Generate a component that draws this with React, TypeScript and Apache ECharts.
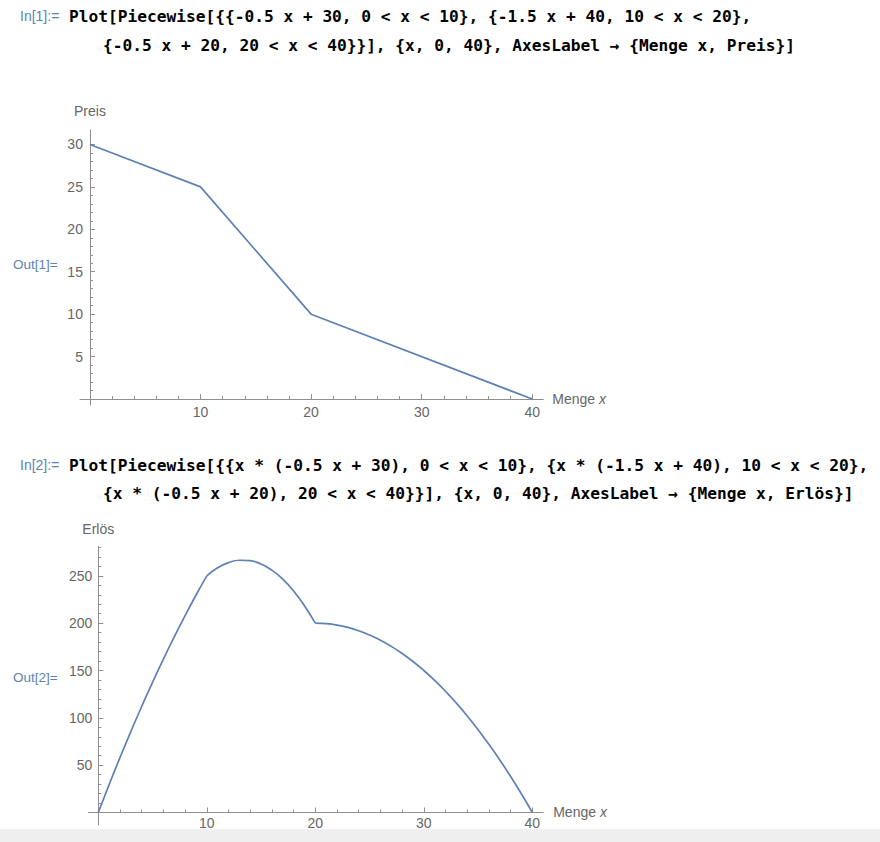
import React, { useEffect, useRef } from "react";
import * as echarts from "echarts";

// ---- data ----
const PRICE_X = [0, 10, 20, 40];
const PRICE_Y = [30, 25, 10, 0];

const REV_X = [0, 1, 2, 3, 4, 5, 6, 7, 8, 9, 10, 11, 12, 13, 14, 15, 16, 17, 18, 19, 20,
  21, 22, 23, 24, 25, 26, 27, 28, 29, 30, 31, 32, 33, 34, 35, 36, 37, 38, 39, 40];
const REV_Y = [0, 29.5, 58, 85.5, 112, 137.5, 162, 185.5, 208, 229.5, 250, 258.5, 264, 266.5, 266, 262.5, 256, 246.5, 234, 218.5, 200,
  199.5, 198, 195.5, 192, 187.5, 182, 175.5, 168, 159.5, 150, 139.5, 128, 115.5, 102, 87.5, 72, 55.5, 38, 19.5, 0];
// pieces of the piecewise function (index ranges into REV_X / REV_Y)
const REV_PIECES = [[0, 10], [10, 20], [20, 40]];

// ---- ticks ----
const X_LABELS = [10, 20, 30, 40];
const X_MINOR = [2, 4, 6, 8, 12, 14, 16, 18, 22, 24, 26, 28, 32, 34, 36, 38];
const PRICE_Y_LABELS = [5, 10, 15, 20, 25, 30];
const PRICE_Y_MINOR = [1, 2, 3, 4, 6, 7, 8, 9, 11, 12, 13, 14, 16, 17, 18, 19, 21, 22, 23, 24, 26, 27, 28, 29];
const REV_Y_LABELS = [50, 100, 150, 200, 250];
const REV_Y_MINOR = [10, 20, 30, 40, 60, 70, 80, 90, 110, 120, 130, 140, 160, 170, 180, 190, 210, 220, 230, 240, 260, 270, 280];

// ---- texts ----
const IN1 = "In[1]:=";
const IN2 = "In[2]:=";
const OUT1 = "Out[1]=";
const OUT2 = "Out[2]=";
const CODE1_L1 = "Plot[Piecewise[{{-0.5 {x|x} + 30, 0 < {x|x} < 10}, {-1.5 {x|x} + 40, 10 < {x|x} < 20},";
const CODE1_L2 = "{-0.5 {x|x} + 20, 20 < {x|x} < 40}}], {{x|x}, 0, 40}, AxesLabel → {{b|Menge x}, {b|Preis}}]";
const CODE2_L1 = "Plot[Piecewise[{{{x|x} * (-0.5 {x|x} + 30), 0 < {x|x} < 10}, {{x|x} * (-1.5 {x|x} + 40), 10 < {x|x} < 20},";
const CODE2_L2 = "{{x|x} * (-0.5 {x|x} + 20), 20 < {x|x} < 40}}], {{x|x}, 0, 40}, AxesLabel → {{b|Menge x}, {b|Erlös}}]";
const X_NAME = "{n|Menge }{i|x}";
const PRICE_NAME = "Preis";
const REV_NAME = "Erlös";

const LINE_COLOR = "#5e81b5";
const AXIS_COLOR = "#8f8f8f";
const LABEL_COLOR = "#666666";
const SANS = "Liberation Sans, Arial, sans-serif";
const MONO = "DejaVu Sans Mono, monospace";

// plot frames (layout)
const G1 = { left: 80, top: 130, width: 463.3, height: 275, xMin: -0.9, xMax: 41, yMin: -0.7, yMax: 31.7 };
const G2 = { left: 88.5, top: 546.5, width: 454.7, height: 278.3, xMin: -0.9, xMax: 41, yMin: -13, yMax: 281 };

// offsets so that the axes cross at the origin (axis lines, ticks and labels together)
const yOffset = (g: typeof G1) => -((0 - g.xMin) / (g.xMax - g.xMin)) * g.width;
const xOffset = (g: typeof G1) => -((0 - g.yMin) / (g.yMax - g.yMin)) * g.height;

export default function App() {
  const ref = useRef<HTMLDivElement>(null);
  useEffect(() => {
    if (!ref.current) return;
    const chart = echarts.init(ref.current, undefined, { renderer: "svg" });

    const codeStyle = (text: string) => ({
      text,
      fontFamily: MONO,
      fontSize: 16.2,
      fontWeight: "bold",
      fill: "#000000",
      verticalAlign: "middle",
      rich: {
        x: { fontFamily: MONO, fontSize: 16.2, fontWeight: "bold", color: "#3d8a98" },
        b: { fontFamily: MONO, fontSize: 16.2, fontWeight: "bold", color: "#2b3fc2" },
      },
    });
    const promptStyle = (text: string, size: number) => ({
      text,
      fontFamily: SANS,
      fontSize: size,
      fill: "#5a84b3",
      verticalAlign: "middle",
    });

    const xMajor = (grid: number, g: typeof G1, margin: number, gap: number) => ({
      type: "value",
      gridIndex: grid,
      min: g.xMin,
      max: g.xMax,
      position: "bottom",
      offset: xOffset(g),
      name: X_NAME,
      nameLocation: "end",
      nameGap: gap,
      nameTextStyle: {
        rich: {
          n: { fontFamily: SANS, fontSize: 14, color: LABEL_COLOR },
          i: { fontFamily: SANS, fontSize: 14, color: LABEL_COLOR, fontStyle: "italic" },
        },
      },
      splitLine: { show: false },
      axisLine: { show: true, onZero: false, lineStyle: { color: AXIS_COLOR, width: 1 } },
      axisTick: { show: true, inside: true, length: 5, customValues: X_LABELS, lineStyle: { color: AXIS_COLOR } },
      axisLabel: { customValues: X_LABELS, margin, color: LABEL_COLOR, fontFamily: SANS, fontSize: 14 },
    });
    const xMinor = (grid: number, g: typeof G1) => ({
      type: "value",
      gridIndex: grid,
      min: g.xMin,
      max: g.xMax,
      position: "bottom",
      offset: xOffset(g),
      splitLine: { show: false },
      axisLine: { show: false, onZero: false },
      axisTick: { show: true, inside: true, length: 3, customValues: X_MINOR, lineStyle: { color: AXIS_COLOR } },
      axisLabel: { show: false, customValues: X_MINOR },
    });
    const yMajor = (grid: number, g: typeof G1, labels: number[], name: string, gap: number, margin: number) => ({
      type: "value",
      gridIndex: grid,
      min: g.yMin,
      max: g.yMax,
      position: "left",
      offset: yOffset(g),
      name,
      nameLocation: "end",
      nameGap: gap,
      nameTextStyle: { fontFamily: SANS, fontSize: 14, color: LABEL_COLOR, align: "center" },
      splitLine: { show: false },
      axisLine: { show: true, onZero: false, lineStyle: { color: AXIS_COLOR, width: 1 } },
      axisTick: { show: true, inside: true, length: 5, customValues: labels, lineStyle: { color: AXIS_COLOR } },
      axisLabel: { customValues: labels, margin, color: LABEL_COLOR, fontFamily: SANS, fontSize: 14 },
    });
    const yMinor = (grid: number, g: typeof G1, minor: number[]) => ({
      type: "value",
      gridIndex: grid,
      min: g.yMin,
      max: g.yMax,
      position: "left",
      offset: yOffset(g),
      splitLine: { show: false },
      axisLine: { show: false, onZero: false },
      axisTick: { show: true, inside: true, length: 3, customValues: minor, lineStyle: { color: AXIS_COLOR } },
      axisLabel: { show: false, customValues: minor },
    });

    const lineSeries = (xi: number, data: number[][], smooth: boolean) => ({
      type: "line",
      xAxisIndex: xi,
      yAxisIndex: xi,
      data,
      smooth,
      showSymbol: false,
      lineStyle: { color: LINE_COLOR, width: 1.7 },
      itemStyle: { color: LINE_COLOR },
    });

    chart.setOption({
      animation: false,
      backgroundColor: "#ffffff",
      grid: [
        { left: G1.left, top: G1.top, width: G1.width, height: G1.height },
        { left: G2.left, top: G2.top, width: G2.width, height: G2.height },
      ],
      xAxis: [
        xMajor(0, G1, 6, 9),
        xMinor(0, G1),
        xMajor(1, G2, 4, 10),
        xMinor(1, G2),
      ],
      yAxis: [
        yMajor(0, G1, PRICE_Y_LABELS, PRICE_NAME, 12, 7),
        yMinor(0, G1, PRICE_Y_MINOR),
        yMajor(1, G2, REV_Y_LABELS, REV_NAME, 11, 6),
        yMinor(1, G2, REV_Y_MINOR),
      ],
      series: [
        lineSeries(0, PRICE_X.map((x, i) => [x, PRICE_Y[i]]), false),
        ...REV_PIECES.map(([a, b]) =>
          lineSeries(2, REV_X.slice(a, b + 1).map((x, i) => [x, REV_Y[a + i]]), true)
        ),
      ],
      graphic: [
        { type: "rect", z: -10, shape: { x: 0, y: 829, width: 880, height: 13 }, style: { fill: "#efefef" } },
        { type: "text", x: 20, y: 16, style: promptStyle(IN1, 14) },
        { type: "text", x: 69, y: 16, style: codeStyle(CODE1_L1) },
        { type: "text", x: 103, y: 45, style: codeStyle(CODE1_L2) },
        { type: "text", x: 13, y: 264, style: promptStyle(OUT1, 13.5) },
        { type: "text", x: 20, y: 465, style: promptStyle(IN2, 14) },
        { type: "text", x: 69, y: 465, style: codeStyle(CODE2_L1) },
        { type: "text", x: 103, y: 493, style: codeStyle(CODE2_L2) },
        { type: "text", x: 13, y: 677, style: promptStyle(OUT2, 13.5) },
      ],
    });
    return () => chart.dispose();
  }, []);
  return (
    <div
      ref={ref}
      style={{ position: "absolute", left: 0, top: 0, width: 880, height: 842, background: "#ffffff" }}
    />
  );
}
